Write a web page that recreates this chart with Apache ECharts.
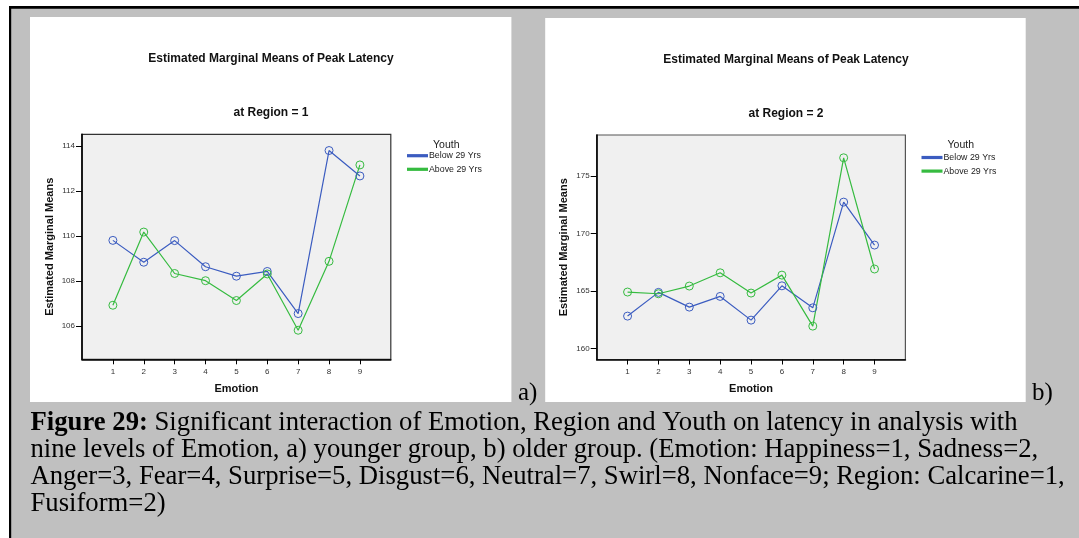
<!DOCTYPE html>
<html>
<head>
<meta charset="utf-8">
<script src="https://cdn.jsdelivr.net/npm/echarts@6/dist/echarts.min.js"></script>
<style>
html,body{margin:0;padding:0;background:#fff;}
#c{width:1079px;height:538px;}
</style>
</head>
<body>
<div id="c"></div>
<script>
// ---- data ----
const emotions = [1, 2, 3, 4, 5, 6, 7, 8, 9];
const seriesNames = ['Below 29 Yrs', 'Above 29 Yrs'];
const region1Below = [109.81, 108.84, 109.80, 108.64, 108.22, 108.43, 106.56, 113.80, 112.67];
const region1Above = [106.93, 110.18, 108.34, 108.02, 107.14, 108.32, 105.82, 108.88, 113.16];
const region2Below = [162.81, 164.87, 163.59, 164.52, 162.46, 165.44, 163.53, 172.71, 168.98];
const region2Above = [164.90, 164.75, 165.42, 166.57, 164.81, 166.37, 161.94, 176.56, 166.90];
const region1Ticks = [106, 108, 110, 112, 114];
const region2Ticks = [160, 165, 170, 175];
const chartTitle = 'Estimated Marginal Means of Peak Latency';
const subTitles = ['at Region = 1', 'at Region = 2'];
const captionLines = [
  '{b|Figure 29:} Significant interaction of Emotion, Region and Youth on latency in analysis with',
  'nine levels of Emotion, a) younger group, b) older group. (Emotion: Happiness=1, Sadness=2,',
  'Anger=3, Fear=4, Surprise=5, Disgust=6, Neutral=7, Swirl=8, Nonface=9; Region: Calcarine=1,',
  'Fusiform=2)'
];

const BLUE = '#3b5cc0';
const GREEN = '#36bb40';
const SANS = '"Liberation Sans", Arial, sans-serif';
const SERIF = '"Liberation Serif", "Times New Roman", serif';

const chart = echarts.init(document.getElementById('c'), null, {renderer: 'canvas'});

function pts(vals) { return emotions.map((e, i) => [e, vals[i]]); }

function xAxisCfg(gi) {
  return {
    type: 'value', gridIndex: gi, min: 0, max: 10,
    axisLine: {show: true, lineStyle: {color: '#000', width: 1.6}},
    axisTick: {show: true, customValues: emotions, length: 5, lineStyle: {color: '#000', width: 1}},
    axisLabel: {customValues: emotions, fontSize: 8, color: '#333', margin: 8, fontFamily: SANS},
    splitLine: {show: false},
    name: 'Emotion', nameLocation: 'middle', nameGap: 24,
    nameTextStyle: {fontSize: 11, fontWeight: 'bold', color: '#111', fontFamily: SANS}
  };
}
function yAxisCfg(gi, min, max, ticks) {
  return {
    type: 'value', gridIndex: gi, min: min, max: max,
    axisLine: {show: true, lineStyle: {color: '#000', width: 1.6}},
    axisTick: {show: true, customValues: ticks, length: 6, lineStyle: {color: '#000', width: 1}},
    axisLabel: {customValues: ticks, fontSize: 8, color: '#333', margin: 7, fontFamily: SANS},
    splitLine: {show: false},
    name: 'Estimated Marginal Means', nameLocation: 'middle', nameGap: 27,
    nameTextStyle: {fontSize: 11, fontWeight: 'bold', color: '#111', fontFamily: SANS}
  };
}
function lineSeries(name, gi, vals, color) {
  return {
    type: 'line', name: name, xAxisIndex: gi, yAxisIndex: gi,
    data: pts(vals), symbol: 'circle', symbolSize: 8,
    itemStyle: {color: 'rgba(0,0,0,0)', borderColor: color, borderWidth: 1},
    lineStyle: {color: color, width: 1.2},
    color: color,
    emphasis: {disabled: true}, animation: false, z: 3
  };
}
function legendCfg(left, top) {
  return {
    orient: 'vertical', left: left, top: top, padding: 0,
    icon: 'rect', itemWidth: 19, itemHeight: 1.2, itemGap: 3.6,
    data: seriesNames.map((n, i) => ({name: n, itemStyle: {color: i === 0 ? BLUE : GREEN}})),
    textStyle: {fontSize: 8.8, color: '#222', fontFamily: SANS, lineHeight: 10, padding: [0,0,0,-3]},
    selectedMode: false
  };
}
function titleCfg(text, x, yCenter, size) {
  return {
    text: text, left: x, top: yCenter - size / 2 - 1, textAlign: 'center', padding: 0,
    textStyle: {fontSize: size, fontWeight: 'bold', color: '#111', fontFamily: SANS, lineHeight: size + 2}
  };
}

const graphics = [
  {type: 'rect', shape: {x: 9, y: 6, width: 1070, height: 532}, style: {fill: '#c0c0c0'}, z: -20, silent: true},
  {type: 'rect', shape: {x: 9, y: 6, width: 1070, height: 2.7}, style: {fill: '#000'}, z: -19, silent: true},
  {type: 'rect', shape: {x: 9, y: 6, width: 2.2, height: 532}, style: {fill: '#000'}, z: -19, silent: true},
  {type: 'rect', shape: {x: 30, y: 17, width: 481.4, height: 385}, style: {fill: '#fff'}, z: -18, silent: true},
  {type: 'rect', shape: {x: 545.2, y: 18, width: 480.5, height: 384}, style: {fill: '#fff'}, z: -18, silent: true},
  {type: 'text', x: 446.3, y: 145, style: {text: 'Youth', fontSize: 10.5, fontFamily: SANS, fill: '#222', align: 'center', verticalAlign: 'middle'}, silent: true},
  {type: 'text', x: 960.8, y: 145, style: {text: 'Youth', fontSize: 10.5, fontFamily: SANS, fill: '#222', align: 'center', verticalAlign: 'middle'}, silent: true},
  {type: 'text', x: 518, y: 393, style: {text: 'a)', fontSize: 25, fontFamily: SERIF, fill: '#000', align: 'left', verticalAlign: 'middle'}, silent: true},
  {type: 'text', x: 1032, y: 393, style: {text: 'b)', fontSize: 25, fontFamily: SERIF, fill: '#000', align: 'left', verticalAlign: 'middle'}, silent: true}
];
const captionY = [423, 450, 477, 504];
captionLines.forEach((t, i) => {
  graphics.push({
    type: 'text', x: 30.5, y: captionY[i], silent: true,
    style: {
      text: t, fontSize: 26.7, fontFamily: SERIF, fill: '#000', align: 'left', verticalAlign: 'middle',
      rich: {b: {fontSize: 26.7, fontFamily: SERIF, fontWeight: 'bold', fill: '#000'}}
    }
  });
});

const option = {
  animation: false,
  backgroundColor: '#fff',
  title: [
    titleCfg(chartTitle, 271, 59, 12),
    titleCfg(subTitles[0], 271, 113, 12),
    titleCfg(chartTitle, 786, 60, 12),
    titleCfg(subTitles[1], 786, 114, 12)
  ],
  legend: [legendCfg(407, 150.7), legendCfg(921.5, 152.5)],
  grid: [
    {left: 82, top: 134.3, width: 308.8, height: 225, show: true, backgroundColor: '#f0f0f0', borderColor: '#333', borderWidth: 1.2, containLabel: false},
    {left: 596.7, top: 135, width: 308.7, height: 224.5, show: true, backgroundColor: '#f0f0f0', borderColor: '#555', borderWidth: 1.2, containLabel: false}
  ],
  xAxis: [xAxisCfg(0), xAxisCfg(1)],
  yAxis: [yAxisCfg(0, 104.53, 114.52, region1Ticks), yAxisCfg(1, 159.04, 178.54, region2Ticks)],
  series: [
    lineSeries(seriesNames[0], 0, region1Below, BLUE),
    lineSeries(seriesNames[1], 0, region1Above, GREEN),
    lineSeries(seriesNames[0], 1, region2Below, BLUE),
    lineSeries(seriesNames[1], 1, region2Above, GREEN)
  ],
  graphic: graphics
};
chart.setOption(option);
</script>
</body>
</html>
